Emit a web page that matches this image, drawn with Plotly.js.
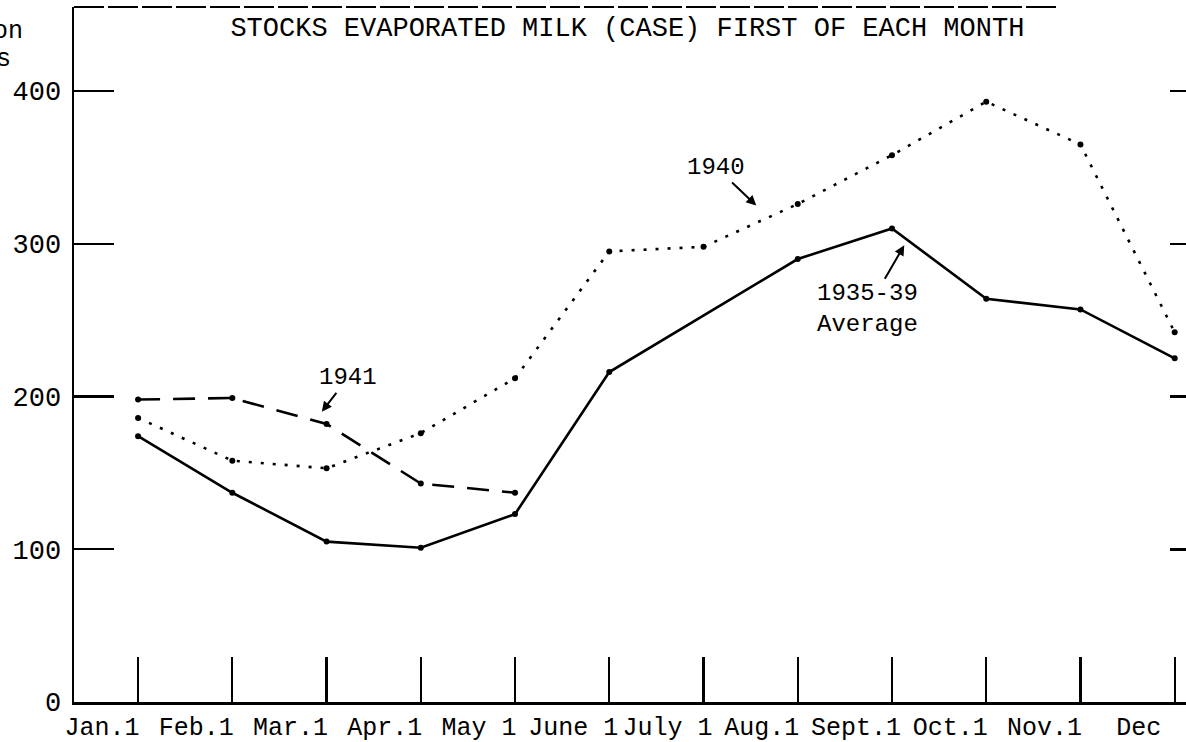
<!DOCTYPE html>
<html>
<head>
<meta charset="utf-8">
<script src="https://cdn.plot.ly/plotly-3.0.1.min.js"></script>
<style>
html,body{margin:0;padding:0;background:#fff;}
#chart{width:1186px;height:742px;}
</style>
</head>
<body>
<div id="chart"></div>
<script>
// Data (million cases, first of each month)
const months = ["Jan.1","Feb.1","Mar.1","Apr.1","May 1","June 1","July 1","Aug.1","Sept.1","Oct.1","Nov.1","Dec"];
const avg3539 = [174, 137, 105, 101, 123, 216, null, 290, 310, 264, 257, 225];
const y1940 = [186, 158, 153, 176, 212, 295, 298, 326, 358, 393, 365, 242];
const y1941 = [198, 199, 182, 143, 137, null, null, null, null, null, null, null];
const yTicks = [0, 100, 200, 300, 400];
const rightTicks = [100, 200, 300, 400];

const FONT = "Liberation Mono, Courier New, monospace";
const idx = months.map((m, i) => i);

const traces = [
  {
    x: idx, y: avg3539, name: "1935-39 Average", mode: "lines+markers",
    connectgaps: true,
    line: {color: "#000", width: 2.6},
    marker: {color: "#000", size: 6}
  },
  {
    x: idx, y: y1940, name: "1940", mode: "lines+markers",
    line: {color: "#000", width: 2.6, dash: "3px,9px"},
    marker: {color: "#000", size: 6}
  },
  {
    x: idx, y: y1941, name: "1941", mode: "lines+markers",
    line: {color: "#000", width: 2.6, dash: "22px,13px"},
    marker: {color: "#000", size: 6}
  },
  {
    // carries the right-hand tick marks only; draws nothing itself
    x: idx, y: y1940, yaxis: "y2", mode: "none", hoverinfo: "skip", showlegend: false
  }
];

const layout = {
  width: 1186, height: 742,
  paper_bgcolor: "#fff", plot_bgcolor: "#fff",
  margin: {l: 74, r: 0, t: 7, b: 40},
  showlegend: false,
  font: {family: FONT, color: "#000", size: 24},
  title: {
    text: "STOCKS EVAPORATED MILK (CASE) FIRST OF EACH MONTH",
    font: {family: FONT, size: 27, color: "#000"},
    xref: "container", x: 0.529, xanchor: "center",
    yref: "container", y: 0.964, yanchor: "middle"
  },
  xaxis: {
    type: "linear",
    range: [-0.68, 11.12],
    tickvals: idx, ticktext: months,
    ticks: "inside", ticklen: 45, tickwidth: 2.2, tickcolor: "#000",
    ticklabelshift: -36,
    showline: true, linecolor: "#000", linewidth: 2.5,
    showgrid: false, zeroline: false,
    tickfont: {family: FONT, size: 25, color: "#000"}
  },
  yaxis: {
    range: [0, 455],
    tickvals: yTicks,
    ticks: "inside", ticklen: 40, tickwidth: 2.2, tickcolor: "#000",
    ticklabelstandoff: 5,
    showline: true, linecolor: "#000", linewidth: 2.5,
    showgrid: false, zeroline: false,
    tickfont: {family: FONT, size: 27, color: "#000"}
  },
  yaxis2: {
    overlaying: "y", side: "right", anchor: "x",
    range: [0, 455],
    tickvals: rightTicks, showticklabels: false,
    ticks: "inside", ticklen: 16, tickwidth: 2.5, tickcolor: "#000",
    showline: false, showgrid: false, zeroline: false
  },
  shapes: [
    {type: "line", xref: "paper", yref: "paper", x0: 0, x1: 0.885, y0: 1, y1: 1,
     line: {color: "#000", width: 2, dash: "30px,4px"}}
  ],
  annotations: [
    {text: "Million", xref: "paper", yref: "paper", x: -0.044, y: 0.965,
     xanchor: "right", yanchor: "middle", showarrow: false,
     font: {family: FONT, size: 25, color: "#000"}},
    {text: "cases", xref: "paper", yref: "paper", x: -0.055, y: 0.925,
     xanchor: "right", yanchor: "middle", showarrow: false,
     font: {family: FONT, size: 25, color: "#000"}},
    {text: "1941", x: 1.95, y: 190, ax: 26, ay: -34,
     showarrow: true, arrowhead: 2, arrowsize: 1, arrowwidth: 2, arrowcolor: "#000",
     font: {family: FONT, size: 24, color: "#000"}},
    {text: "1940", x: 6.56, y: 325, ax: -40, ay: -38,
     showarrow: true, arrowhead: 2, arrowsize: 1, arrowwidth: 2, arrowcolor: "#000",
     font: {family: FONT, size: 24, color: "#000"}},
    {text: "1935-39<br>Average", x: 8.13, y: 299, ax: -37, ay: 64,
     showarrow: true, arrowhead: 2, arrowsize: 1, arrowwidth: 2, arrowcolor: "#000",
     font: {family: FONT, size: 24, color: "#000"}}
  ]
};

Plotly.newPlot("chart", traces, layout, {displayModeBar: false, staticPlot: true});
</script>
</body>
</html>
